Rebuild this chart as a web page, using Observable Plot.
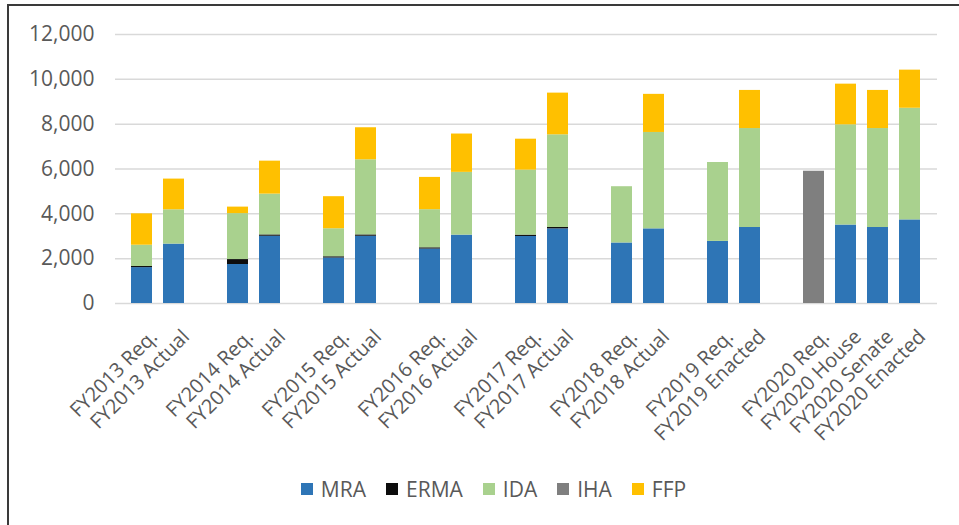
<!DOCTYPE html>
<html><head><meta charset="utf-8">
<script src="https://cdn.jsdelivr.net/npm/d3@7"></script>
<script src="https://cdn.jsdelivr.net/npm/@observablehq/plot@0.6"></script>
<style>
body{margin:0;background:#fff;font-family:"Open Sans",sans-serif;width:959px;height:525px;overflow:hidden;position:relative;}
#frame{position:absolute;left:7px;top:4px;width:960px;height:530px;border-left:2px solid #3a3a3a;border-top:2px solid #3a3a3a;}
#chart{position:absolute;left:0;top:0;}
#legend{position:absolute;left:14px;top:475px;width:959px;display:flex;justify-content:center;align-items:center;font-size:21px;color:#595959;}
#legend .item{display:flex;align-items:center;margin:0 10px;}
#legend .sw{width:12px;height:12px;margin-right:8px;}
</style>
</head><body>
<div id="frame"></div>
<div id="chart"></div>
<div id="legend"></div>
<script>
const categories = ["FY2013 Req.","FY2013 Actual","FY2014 Req.","FY2014 Actual","FY2015 Req.","FY2015 Actual","FY2016 Req.","FY2016 Actual","FY2017 Req.","FY2017 Actual","FY2018 Req.","FY2018 Actual","FY2019 Req.","FY2019 Enacted","FY2020 Req.","FY2020 House","FY2020 Senate","FY2020 Enacted"];
const MRA  = [1600,2650,1740,3000,2030,3000,2430,3050,2990,3330,2700,3330,2770,3390,0,3500,3390,3730];
const ERMA = [50,0,220,60,55,60,55,0,60,60,0,0,0,0,0,0,0,0];
const IDA  = [950,1530,2050,1820,1250,3350,1700,2800,2900,4135,2510,4300,3520,4415,0,4470,4415,4980];
const IHA  = [0,0,0,0,0,0,0,0,0,0,0,0,0,0,5900,0,0,0];
const FFP  = [1400,1370,290,1470,1430,1430,1440,1710,1380,1860,0,1700,0,1700,0,1815,1700,1700];
const seriesNames = ["MRA","ERMA","IDA","IHA","FFP"];
const seriesColors = ["#2E75B6","#0D0D0D","#A9D18E","#7F7F7F","#FFC000"];
const yTicks = [0,2000,4000,6000,8000,10000,12000];

const seriesValues = {MRA, ERMA, IDA, IHA, FFP};
const rows = [];
categories.forEach((c,i)=>{
  seriesNames.forEach(s=>{
    if (seriesValues[s][i] > 0) rows.push({category:c, series:s, value:seriesValues[s][i]});
  });
});
const fiscalYear = categories.map(c=>c.slice(0,6));
const domain = [];
categories.forEach((c,i)=>{
  if (i>0 && fiscalYear[i]!==fiscalYear[i-1]) domain.push("gap"+i);
  domain.push(c);
});

const chart = Plot.plot({
  width:959, height:460,
  marginLeft:115, marginRight:22, marginTop:34, marginBottom:157,
  style:{fontFamily:"Open Sans, sans-serif", fontSize:"20px", color:"#595959", background:"transparent"},
  x:{domain, paddingInner:0.33, paddingOuter:0.165, axis:null, label:null},
  y:{domain:[0,12000], axis:null, label:null},
  color:{domain:seriesNames, range:seriesColors},
  marks:[
    Plot.ruleY(yTicks, {stroke:"#d9d9d9", strokeWidth:1.5}),
    Plot.barY(rows, {x:"category", y:"value", fill:"series", order:seriesNames}),
    Plot.axisY({ticks:yTicks, tickSize:0, tickPadding:21, tickFormat:d3.format(","), label:null, fontSize:21}),
    Plot.axisX({tickSize:0, tickRotate:-45, tickPadding:30, dx:12, tickFormat:d=>d.startsWith("gap")?"":d, label:null, fontSize:20})
  ]
});
document.getElementById("chart").appendChild(chart);

const legend = document.getElementById("legend");
seriesNames.forEach((s,i)=>{
  const it = document.createElement("div"); it.className="item";
  const sw = document.createElement("div"); sw.className="sw"; sw.style.background=seriesColors[i];
  const t = document.createElement("span"); t.textContent=s;
  it.appendChild(sw); it.appendChild(t); legend.appendChild(it);
});
</script>
</body></html>
